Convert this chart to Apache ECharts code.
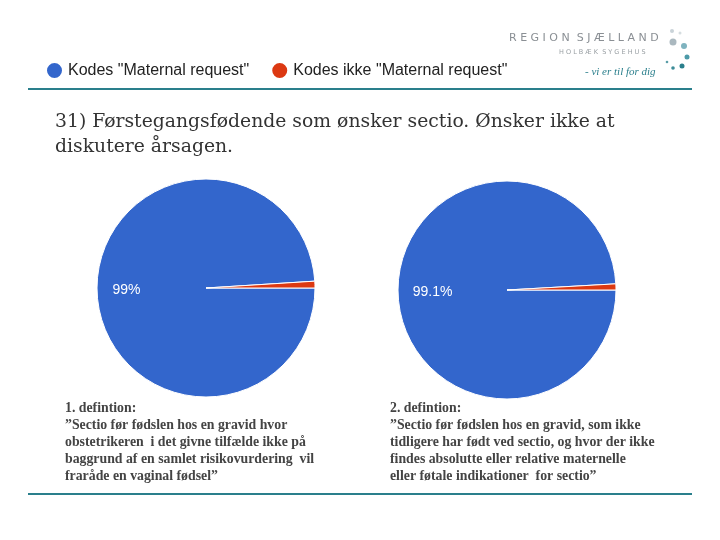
<!DOCTYPE html>
<html lang="da">
<head>
<meta charset="UTF-8">
<title>Maternal request</title>
<script src="https://cdn.jsdelivr.net/npm/echarts@6/dist/echarts.min.js"></script>
<style>
  html, body { margin: 0; padding: 0; background: #fff; }
  #container { width: 720px; height: 540px; }
</style>
</head>
<body>
<div id="container"></div>
<script>
// data
var categories = ['Kodes "Maternal request"', 'Kodes ikke "Maternal request"'];
var definition1 = [99, 1];
var definition2 = [99.1, 0.9];
var colors = ['#3366cc', '#dc3912'];

var title = '31) Førstegangsfødende som ønsker sectio. Ønsker ikke at\ndiskutere årsagen.';
var text1 = '1. defintion:\n”Sectio før fødslen hos en gravid hvor\nobstetrikeren  i det givne tilfælde ikke på\nbaggrund af en samlet risikovurdering  vil\nfraråde en vaginal fødsel”';
var text2 = '2. defintion:\n”Sectio før fødslen hos en gravid, som ikke\ntidligere har født ved sectio, og hvor der ikke\nfindes absolutte eller relative maternelle\neller føtale indikationer  for sectio”';

var chart = echarts.init(document.getElementById('container'));

function toData(values) {
    return values.map(function (v, i) {
        return { name: categories[i], value: v, itemStyle: { color: colors[i] } };
    });
}

// full pie, no labels
function pieSeries(values, center) {
    return {
        type: 'pie',
        center: center,
        radius: 109,
        startAngle: 0,
        clockwise: true,
        avoidLabelOverlap: false,
        label: { show: false },
        labelLine: { show: false },
        emphasis: { disabled: true },
        itemStyle: { borderColor: '#fff', borderWidth: 1 },
        data: toData(values)
    };
}

// transparent ring only used to put the label further out
function labelSeries(values, center, inner) {
    return {
        type: 'pie',
        center: center,
        radius: [inner, 109],
        startAngle: 0,
        clockwise: true,
        silent: true,
        avoidLabelOverlap: false,
        emphasis: { disabled: true },
        labelLine: { show: false },
        itemStyle: { color: 'transparent' },
        label: {
            show: true,
            position: 'inside',
            color: '#fff',
            fontFamily: '"Liberation Sans", Arial, sans-serif',
            fontSize: 14,
            formatter: function (p) { return p.dataIndex === 0 ? p.value + '%' : ''; }
        },
        data: values.map(function (v, i) { return { name: categories[i], value: v }; })
    };
}

var option = {
    animation: false,
    legend: {
        left: 45,
        top: 61,
        padding: 0,
        itemWidth: 17,
        itemHeight: 17,
        itemGap: 21,
        icon: 'circle',
        selectedMode: false,
        textStyle: { fontFamily: '"Liberation Sans", Arial, sans-serif', fontSize: 16, color: '#222' },
        data: categories.map(function (c, i) { return { name: c, itemStyle: { color: colors[i] } }; })
    },
    graphic: [
        // teal rules
        { type: 'line', shape: { x1: 28, y1: 89, x2: 692, y2: 89 }, style: { stroke: '#2a7f8c', lineWidth: 2 } },
        { type: 'line', shape: { x1: 28, y1: 494, x2: 692, y2: 494 }, style: { stroke: '#2a7f8c', lineWidth: 2 } },
        // logo
        { type: 'text', style: { text: 'R E G I O N  S J Æ L L A N D', x: 509, y: 33, font: '11px "DejaVu Sans", sans-serif', fill: '#8a8f94' } },
        { type: 'text', style: { text: 'H O L B Æ K  S Y G E H U S', x: 559, y: 49, font: '6.5px "DejaVu Sans", sans-serif', fill: '#9aa0a4' } },
        { type: 'text', style: { text: '- vi er til for dig', x: 585, y: 67, font: 'italic 11px "Liberation Serif", serif', fill: '#2a7f8c' } },
        { type: 'circle', shape: { cx: 672, cy: 31, r: 2 }, style: { fill: '#c9d3d8' } },
        { type: 'circle', shape: { cx: 680, cy: 33, r: 1.5 }, style: { fill: '#d5dde0' } },
        { type: 'circle', shape: { cx: 673, cy: 42, r: 3.5 }, style: { fill: '#aab8bf' } },
        { type: 'circle', shape: { cx: 684, cy: 46, r: 3 }, style: { fill: '#7fb3bf' } },
        { type: 'circle', shape: { cx: 687, cy: 57, r: 2.5 }, style: { fill: '#4d9aa8' } },
        { type: 'circle', shape: { cx: 682, cy: 66, r: 2.5 }, style: { fill: '#2a7f8c' } },
        { type: 'circle', shape: { cx: 673, cy: 68, r: 1.8 }, style: { fill: '#3d8c98' } },
        { type: 'circle', shape: { cx: 667, cy: 62, r: 1.3 }, style: { fill: '#5a9da8' } },
        // title
        { type: 'text', style: { text: title, x: 55, y: 110, font: '18.8px "DejaVu Serif", serif', lineHeight: 25, fill: '#333' } },
        // definitions
        { type: 'text', style: { text: text1, x: 65, y: 400, font: 'bold 13.8px "Liberation Serif", serif', lineHeight: 17, fill: '#444' } },
        { type: 'text', style: { text: text2, x: 390, y: 400, font: 'bold 13.8px "Liberation Serif", serif', lineHeight: 17, fill: '#444' } }
    ],
    series: [
        pieSeries(definition1, [206, 288]),
        pieSeries(definition2, [507, 290]),
        labelSeries(definition1, [206, 288], 44),
        labelSeries(definition2, [507, 290], 34)
    ]
};

chart.setOption(option);
</script>
</body>
</html>
